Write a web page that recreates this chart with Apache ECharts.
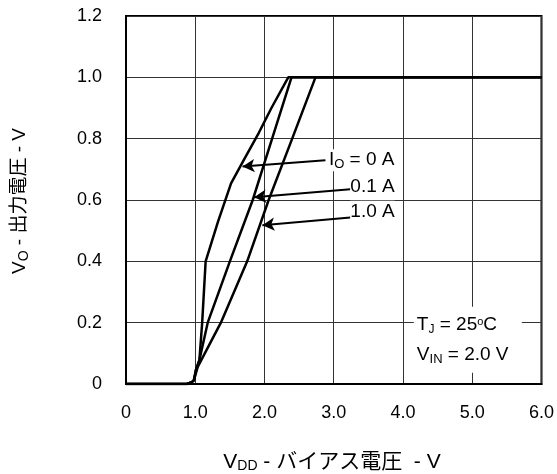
<!DOCTYPE html>
<html><head><meta charset="utf-8">
<script src="https://cdn.jsdelivr.net/npm/echarts@6/dist/echarts.min.js"></script>
<style>html,body{margin:0;padding:0;background:#fff}#c{width:557px;height:474px}</style>
</head><body><div id="c"></div>
<script>
// ---- data ----
const xTicks = [0, 1, 2, 3, 4, 5, 6];
const yTicks = [0, 0.2, 0.4, 0.6, 0.8, 1.0, 1.2];
const seriesNames = ['IO = 0 A', '0.1 A', '1.0 A'];
const io0A = [[0,0],[0.88,0],[0.95,0.006],[0.98,0.012],[1.01,0.046],[1.06,0.078],[1.10,0.2],[1.15,0.40],[1.33,0.53],[1.517,0.654],[1.70,0.73],[1.92,0.82],[2.10,0.90],[2.343,1.0],[6.0,1.0]];
const io01A = [[0,0],[0.88,0],[0.95,0.006],[0.98,0.012],[1.01,0.046],[1.06,0.078],[1.18,0.2],[1.50,0.40],[1.83,0.60],[2.11,0.80],[2.39,1.0],[6.0,1.0]];
const io10A = [[0,0],[0.88,0],[0.95,0.006],[0.98,0.012],[1.036,0.056],[1.37,0.2],[1.75,0.40],[2.06,0.60],[2.40,0.80],[2.736,1.0],[6.0,1.0]];
// arrows: [start, tip] in data units
const arrows = [
  [[2.88,0.730],[1.683,0.709]],
  [[3.24,0.635],[1.85,0.609]],
  [[3.24,0.543],[1.97,0.518]]
];
// annotation anchors (left edge, vertical middle) in data units
const labelAnchors = [[2.93,0.730],[3.24,0.643],[3.24,0.562]];

const FONT = "'Liberation Sans', Arial, 'Noto Sans CJK JP', sans-serif";
const chart = echarts.init(document.getElementById('c'), null, {renderer:'canvas'});
const fmt = v => (v === 0 ? '0' : v.toFixed(1));
const lineStyle = {color:'#000', width:2.5};

chart.setOption({
  animation:false,
  backgroundColor:'#fff',
  grid:{left:126, right:13, top:16, bottom:90, show:true, borderColor:'#000', borderWidth:2, backgroundColor:'transparent'},
  xAxis:{type:'value', min:xTicks[0], max:xTicks[xTicks.length-1], interval:1,
    axisLine:{show:true, lineStyle:{color:'#000', width:2}}, axisTick:{show:false},
    axisLabel:{formatter:fmt, fontSize:18, color:'#000', fontFamily:FONT, margin:20},
    splitLine:{show:true, lineStyle:{color:'#333', width:1}}},
  yAxis:{type:'value', min:yTicks[0], max:yTicks[yTicks.length-1], interval:0.2,
    axisLine:{show:true, lineStyle:{color:'#000', width:2}}, axisTick:{show:false},
    axisLabel:{formatter:fmt, fontSize:18, color:'#000', fontFamily:FONT, margin:24},
    splitLine:{show:true, lineStyle:{color:'#333', width:1}}},
  series:[
    {name:seriesNames[0], type:'line', data:io0A, symbol:'none', lineStyle, z:3,
      markLine:{silent:true, symbol:['none','arrow'], symbolSize:[10,12], label:{show:false},
        lineStyle:{color:'#000', width:2, type:'solid'},
        data: arrows.map(a => [{coord:a[0]},{coord:a[1]}])}},
    {name:seriesNames[1], type:'line', data:io01A, symbol:'none', lineStyle, z:3},
    {name:seriesNames[2], type:'line', data:io10A, symbol:'none', lineStyle, z:3}
  ]
});

const P = p => chart.convertToPixel({gridIndex:0}, p);
const big = s => ({fontSize:s, fontFamily:FONT, fill:'#000', lineHeight:22});
const small = (s, lh) => ({fontSize:s, fontFamily:FONT, fill:'#000', lineHeight:lh, verticalAlign:'bottom'});
const labelTexts = ['{a|I}{s|O}{a| = 0 A}', '{a|0.1 A}', '{a|1.0 A}'];
const gfx = labelAnchors.map((a,i) => {
  const p = P(a);
  return {type:'text', x:p[0], y:p[1], z:10,
    style:{text:labelTexts[i], align:'left', verticalAlign:'middle',
      backgroundColor:'#fff',
      rich:{a:big(19), s:small(13,16)}}};
});
// conditions box
const bx = P([4.2,0.2]);
gfx.push({type:'rect', shape:{x:bx[0]-3, y:bx[1]-16, width:108, height:66}, style:{fill:'#fff'}, z:9});
gfx.push({type:'text', x:bx[0], y:bx[1]+2, z:10, style:{text:'{a|T}{s|J}{a| = 25}{o|o}{a|C}', align:'left', verticalAlign:'middle',
  rich:{a:big(19), s:small(12,17), o:{fontSize:11, fontFamily:FONT, fill:'#000', lineHeight:22, verticalAlign:'top', padding:[3,0,0,0]}}}});
gfx.push({type:'text', x:bx[0], y:bx[1]+32, z:10, style:{text:'{a|V}{s|IN}{a| = 2.0 V}', align:'left', verticalAlign:'middle',
  rich:{a:big(19), s:small(13,14)}}});
// axis titles
gfx.push({type:'text', x:332, y:462, z:10, style:{text:'{a|V}{s|DD}{a| - バイアス電圧  - V}', align:'center', verticalAlign:'middle',
  rich:{a:big(21), s:small(14,18)}}});
gfx.push({type:'text', x:20, y:201, rotation:Math.PI/2, z:10, style:{text:'{a|V}{s|O}{a| - 出力電圧 - V}', align:'center', verticalAlign:'middle',
  rich:{a:big(19), s:small(14,18)}}});
chart.setOption({graphic:{elements:gfx}});
</script></body></html>
